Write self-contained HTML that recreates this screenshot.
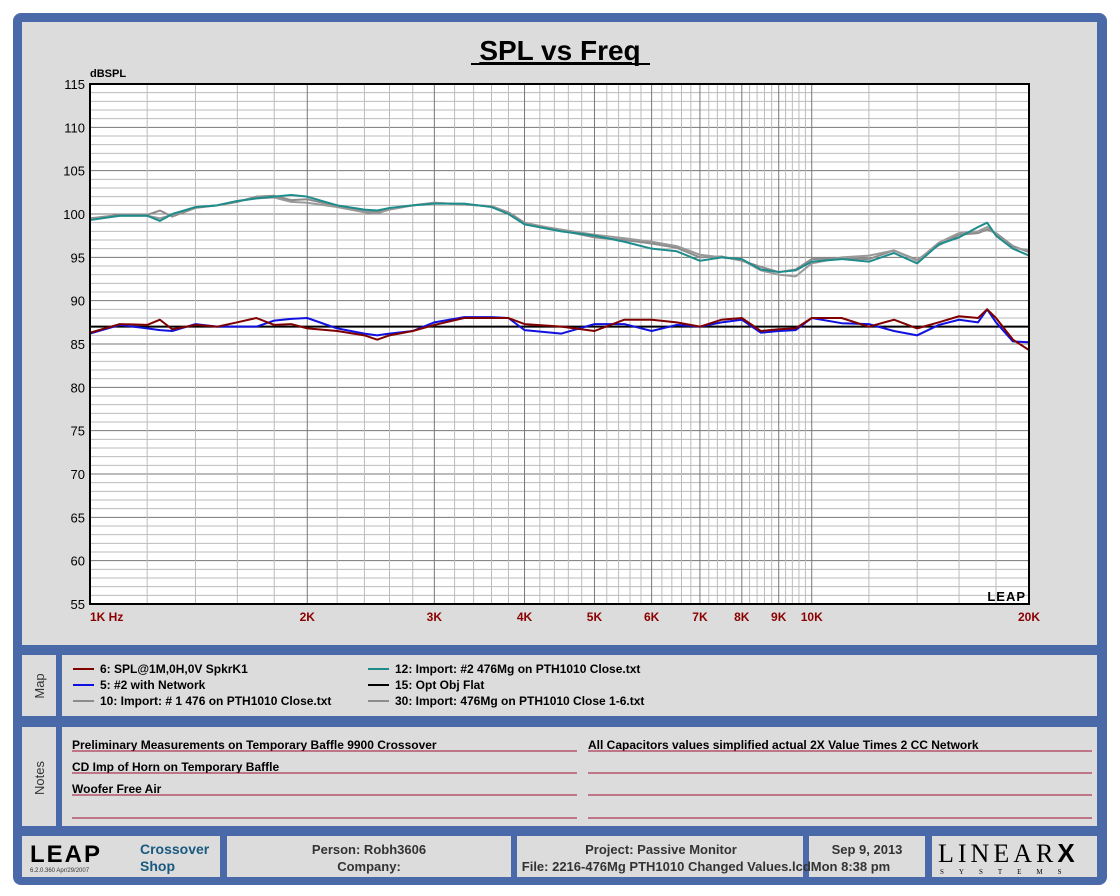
<!DOCTYPE html>
<html><head><meta charset="utf-8">
<style>
body{margin:0;background:#fff;}
svg{display:block;font-family:"Liberation Sans",Arial,sans-serif;}
</style></head>
<body>
<svg id="s" width="1120" height="896" viewBox="0 0 1120 896" xmlns="http://www.w3.org/2000/svg">
<rect x="13" y="13" width="1094" height="872" rx="8" fill="#4a69a8"/>
<rect x="22" y="22" width="1075" height="623" fill="#dcdcdc"/>
<text x="560" y="60" text-anchor="middle" font-size="28" font-weight="bold" fill="#000" text-decoration="underline">SPL vs Freq</text>
<line x1="471" y1="64" x2="650" y2="64" stroke="#000" stroke-width="2"/>
<text x="90" y="77" font-size="11" font-weight="bold">dBSPL</text>
<rect x="90" y="84" width="939" height="520" fill="#fff"/>
<g id="grid"></g>
<g id="series"></g>
<rect x="90" y="84" width="939" height="520" fill="none" stroke="#000" stroke-width="2"/>
<g id="yticks"></g><g id="xticks"></g>
<text x="1026" y="601" text-anchor="end" font-size="13" font-weight="900" letter-spacing="1" fill="#000">LEAP</text>

<rect x="22" y="655" width="1075" height="61" fill="#dcdcdc"/>
<rect x="56" y="655" width="6" height="61" fill="#4a69a8"/>
<text transform="translate(44,686) rotate(-90)" text-anchor="middle" font-size="13" fill="#333">Map</text>
<g id="legend" font-size="12" font-weight="bold"></g>

<rect x="22" y="727" width="1075" height="99" fill="#dcdcdc"/>
<rect x="56" y="727" width="6" height="99" fill="#4a69a8"/>
<text transform="translate(44,778) rotate(-90)" text-anchor="middle" font-size="13" fill="#333">Notes</text>
<g font-size="12" font-weight="bold" fill="#000">
<text x="72" y="749">Preliminary Measurements on Temporary Baffle  9900 Crossover</text>
<text x="72" y="771">CD Imp of Horn on Temporary Baffle</text>
<text x="72" y="793">Woofer Free Air</text>
<text x="588" y="749">All Capacitors values simplified actual 2X Value Times 2 CC Network</text>
</g>
<g stroke="#a01030" stroke-width="1">
<line x1="72" y1="751" x2="577" y2="751"/><line x1="72" y1="773" x2="577" y2="773"/><line x1="72" y1="795" x2="577" y2="795"/><line x1="72" y1="818" x2="577" y2="818"/>
<line x1="588" y1="751" x2="1092" y2="751"/><line x1="588" y1="773" x2="1092" y2="773"/><line x1="588" y1="795" x2="1092" y2="795"/><line x1="588" y1="818" x2="1092" y2="818"/>
</g>

<rect x="22" y="836" width="198" height="41" fill="#dcdcdc"/>
<text x="30" y="862" font-size="24" font-weight="900" letter-spacing="2" fill="#000">LEAP</text>
<text x="30" y="872" font-size="6" fill="#333">6.2.0.360  Apr/29/2007</text>
<text x="140" y="854" font-size="14" font-weight="bold" fill="#1a5a80">Crossover</text>
<text x="140" y="871" font-size="14" font-weight="bold" fill="#1a5a80">Shop</text>
<rect x="227" y="836" width="284" height="41" fill="#dcdcdc"/>
<text x="369" y="854" text-anchor="middle" font-size="13" font-weight="bold" fill="#333">Person: Robh3606</text>
<text x="369" y="871" text-anchor="middle" font-size="13" font-weight="bold" fill="#333">Company:</text>
<rect x="517" y="836" width="286" height="41" fill="#dcdcdc"/>
<text x="661" y="854" text-anchor="middle" font-size="13" font-weight="bold" fill="#333">Project: Passive Monitor</text>
<rect x="809" y="836" width="116" height="41" fill="#dcdcdc"/>
<text x="867" y="854" text-anchor="middle" font-size="13" font-weight="bold" fill="#333">Sep  9, 2013</text>
<text x="706" y="871" text-anchor="middle" font-size="13" font-weight="bold" fill="#333">File: 2216-476Mg PTH1010 Changed Values.lcdMon  8:38 pm</text>
<rect x="932" y="836" width="165" height="41" fill="#dcdcdc"/>
<text x="938" y="862" font-size="26" font-family="Liberation Serif,serif" letter-spacing="4" fill="#000">LINEAR<tspan font-family="Liberation Sans" font-weight="900">X</tspan></text>
<text x="940" y="874" font-size="7" font-family="Liberation Serif,serif" letter-spacing="15" fill="#000">SYSTEMS</text>
</svg>
<script>
const freqs=[1000,1100,1200,1250,1300,1400,1500,1600,1700,1800,1900,2000,2200,2400,2500,2600,2800,3000,3300,3600,3800,4000,4500,5000,5500,6000,6500,7000,7500,8000,8500,9000,9500,10000,11000,12000,13000,14000,15000,16000,17000,17500,18000,19000,20000];
const teal=[99.3,99.8,99.8,99.2,100.0,100.8,101.0,101.5,101.8,102.0,102.2,102.0,101.0,100.5,100.4,100.7,101.0,101.2,101.2,100.8,100.0,98.8,98.0,97.5,96.8,96.0,95.7,94.6,95.0,94.8,93.6,93.3,93.5,94.5,94.8,94.5,95.5,94.3,96.5,97.3,98.5,99.0,97.5,96.0,95.2];
const gray10=[99.5,99.9,99.9,100.4,99.7,100.7,101.0,101.4,102.0,102.1,101.6,101.7,100.9,100.3,100.2,100.6,101.0,101.3,101.1,100.9,100.2,99.0,98.1,97.3,97.0,96.6,96.1,95.0,95.1,94.6,93.9,93.3,93.6,94.8,94.9,94.8,95.8,94.7,96.4,97.6,97.8,98.2,97.8,96.3,95.6];
const gray30=[99.4,99.8,99.8,99.5,99.9,100.8,101.0,101.5,101.8,101.9,101.4,101.3,100.8,100.2,100.1,100.5,101.0,101.3,101.1,100.9,100.1,98.9,98.2,97.6,97.2,96.8,96.3,95.3,95.0,94.7,93.5,93.0,92.8,94.3,95.0,95.2,95.8,94.6,96.7,97.8,98.0,98.5,97.7,96.1,95.8];
const red6=[86.3,87.3,87.2,87.8,86.7,87.2,87.0,87.5,88.0,87.2,87.3,86.8,86.5,86.0,85.5,86.0,86.5,87.2,88.0,88.0,88.0,87.3,87.0,86.5,87.8,87.8,87.5,87.0,87.8,88.0,86.5,86.7,86.8,88.0,88.0,87.0,87.8,86.8,87.5,88.2,88.0,89.0,88.0,85.5,84.3];
const blue5=[86.2,87.2,86.8,86.6,86.5,87.3,87.0,87.0,87.0,87.7,87.9,88.0,86.8,86.2,86.0,86.2,86.5,87.5,88.1,88.1,88.0,86.6,86.2,87.3,87.3,86.5,87.2,87.0,87.5,87.8,86.3,86.5,86.6,88.0,87.4,87.3,86.5,86.0,87.2,87.8,87.5,89.0,87.5,85.3,85.2];
const flat15=freqs.map(()=>87);
const yTicks=[55,60,65,70,75,80,85,90,95,100,105,110,115];
const xTickVals=[1000,2000,3000,4000,5000,6000,7000,8000,9000,10000,20000];
const xTickLabels=["1K  Hz","2K","3K","4K","5K","6K","7K","8K","9K","10K","20K"];

const NS="http://www.w3.org/2000/svg";
const X0=90,X1=1029,Y0=604,Y1=84;
const xs=f=>X0+Math.log10(f/1000)/Math.log10(20)*(X1-X0);
const ys=v=>Y0-(v-55)/60*(Y0-Y1);
function mk(tag,attrs,parent){const e=document.createElementNS(NS,tag);for(const k in attrs)e.setAttribute(k,attrs[k]);parent.appendChild(e);return e;}
const grid=document.getElementById('grid');
for(let v=55;v<=115;v++){const major=v%5===0;
 const l=mk('line',{x1:X0,x2:X1,y1:ys(v),y2:ys(v),stroke:major?'#777':'#bbb','stroke-width':1},grid);
 
 }
const vf=[];for(let f=1000;f<=10000;f+=200)vf.push(f);for(let f=12000;f<=20000;f+=2000)vf.push(f);
vf.forEach(f=>{const major=f%1000===0&&(f<=10000||f===20000);
 const l=mk('line',{x1:xs(f),x2:xs(f),y1:Y1,y2:Y0,stroke:major?'#777':'#bbb','stroke-width':1},grid);
 
 });
const yt=document.getElementById('yticks');
yTicks.forEach(v=>{const t=mk('text',{x:85,y:ys(v)+5,'text-anchor':'end','font-size':13,fill:'#000'},yt);t.textContent=v;
 
 });
const xt=document.getElementById('xticks');
xTickVals.forEach((f,i)=>{const t=mk('text',{x:xs(f)+(i===0?0:0),y:621,'text-anchor':i===0?'start':'middle','font-size':12,'font-weight':'bold',fill:'#8b0000'},xt);t.textContent=xTickLabels[i];
 
 });
const sg=document.getElementById('series');
const series=[["series-10",gray10,"#8c8c8c"],["series-30",gray30,"#999999"],["series-12",teal,"#1f8c8c"],["series-15-flat",flat15,"#000"],["series-5",blue5,"#1010e0"],["series-6",red6,"#800000"]];
series.forEach(([n,d,c])=>{const p=mk('polyline',{points:d.map((v,i)=>xs(freqs[i])+','+ys(v)).join(' '),fill:'none',stroke:c,'stroke-width':2,'stroke-linejoin':'round'},sg);
 
 });
const lg=document.getElementById('legend');
const leg=[[73,669,"#800000","6: SPL@1M,0H,0V SpkrK1"],[73,685,"#1010e0","5: #2 with Network"],[73,701,"#8c8c8c","10: Import: # 1 476 on PTH1010 Close.txt"],[368,669,"#1f8c8c","12: Import: #2 476Mg on PTH1010 Close.txt"],[368,685,"#000","15: Opt Obj Flat"],[368,701,"#8c8c8c","30: Import: 476Mg on PTH1010 Close 1-6.txt"]];
leg.forEach(([x,y,c,t])=>{const g=mk('g',{},lg);
 
 
 mk('line',{x1:x,x2:x+21,y1:y,y2:y,stroke:c,'stroke-width':2},g);
 const tx=mk('text',{x:x+27,y:y+4,fill:'#000'},g);tx.textContent=t;});
</script>
</body></html>
